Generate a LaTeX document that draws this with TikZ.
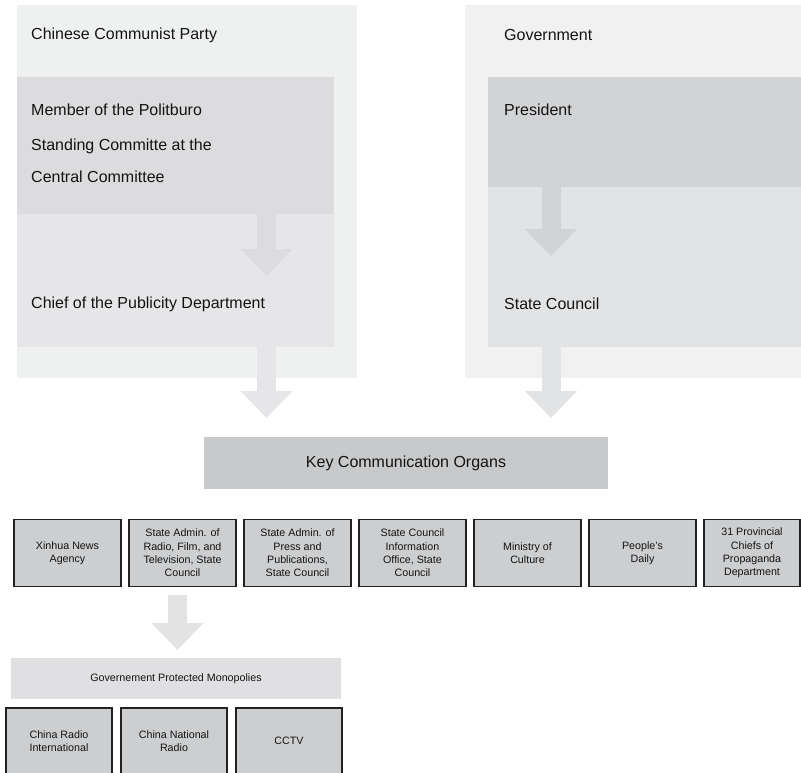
\documentclass[tikz,border=0pt]{standalone}
\usepackage{fontspec}
\setmainfont{Liberation Sans}
\usetikzlibrary{arrows.meta}
\definecolor{outerL}{RGB}{239,240,240}
\definecolor{outerR}{RGB}{241,241,241}
\definecolor{memberc}{RGB}{220,220,222}
\definecolor{chiefc}{RGB}{230,230,232}
\definecolor{presc}{RGB}{210,211,213}
\definecolor{statec}{RGB}{226,227,229}
\definecolor{keyc}{RGB}{200,201,203}
\definecolor{smallc}{RGB}{205,206,208}
\definecolor{monoc}{RGB}{224,224,226}
\definecolor{botarrow}{RGB}{227,227,228}
\definecolor{bordc}{RGB}{34,34,34}
\definecolor{txtc}{RGB}{20,20,20}
\begin{document}
\begin{tikzpicture}[x=1pt,y=-1pt,
  area/.style={inner sep=0pt,outer sep=0pt,anchor=north west},
  bigtext/.style={inner sep=0pt,anchor=west,text=txtc,font=\fontsize{16}{19}\selectfont},
  smalltext/.style={inner sep=0pt,align=center,text=txtc,font=\fontsize{10.7}{13.4}\selectfont},
  smallbox/.style={draw=bordc,line width=1.2pt,fill=smallc,inner sep=0pt,outer sep=0pt,
     minimum width=107pt,minimum height=67pt,align=center,text=txtc,
     font=\fontsize{10.7}{13.4}\selectfont},
  blockarrow/.style={line width=19pt,-{Triangle[width=52pt,length=27pt,line width=0pt]}}
]
\useasboundingbox (0,0) rectangle (801,772);
\clip (0,0) rectangle (801,772);
% party column
\node[area,fill=outerL,minimum width=340pt,minimum height=373pt] (party) at (17,5) {};
\node[area,fill=memberc,minimum width=317pt,minimum height=137pt] (member) at (17,77) {};
\node[area,fill=chiefc,minimum width=317pt,minimum height=133pt] (chief) at (17,214) {};
% government column
\node[area,fill=outerR,minimum width=340pt,minimum height=373pt] (gov) at (465,5) {};
\node[area,fill=presc,minimum width=320pt,minimum height=110pt] (pres) at (488,77) {};
\node[area,fill=statec,minimum width=320pt,minimum height=160pt] (state) at (488,187) {};
% texts
\node[bigtext] (tparty) at (31,35) {Chinese Communist Party};
\node[bigtext] (tm1) at (31,110) {Member of the Politburo};
\node[bigtext] (tm2) at (31,146) {Standing Committe at the};
\node[bigtext] (tm3) at (31,177) {Central Committee};
\node[bigtext] (tchief) at (31,304) {Chief of the Publicity Department};
\node[bigtext] (tgov) at (504,35) {Government};
\node[bigtext] (tpres) at (504,110) {President};
\node[bigtext] (tstate) at (504,304) {State Council};
% key organs
\node[area,fill=keyc,minimum width=404pt,minimum height=52pt] (key) at (204,437) {};
\node[inner sep=0pt,text=txtc,font=\fontsize{16}{19}\selectfont] (tkey) at (key.center) {Key Communication Organs};
% arrows
\coordinate (la1) at (266.5,276);
\coordinate (la2) at (266.5,418);
\coordinate (ra1) at (551,256);
\coordinate (ra2) at (551,418);
\draw[blockarrow,draw=memberc] (member.south -| la1) -- (la1);
\draw[blockarrow,draw=chiefc] (chief.south -| la2) -- (la2);
\draw[blockarrow,draw=presc] (pres.south -| ra1) -- (ra1);
\draw[blockarrow,draw=statec] (state.south -| ra2) -- (ra2);
% organ row
\node[smallbox] (b1) at (67.5,553) {Xinhua News\\Agency};
\node[smallbox] (b2) at (182.5,553) {State Admin. of\\Radio, Film, and\\Television, State\\Council};
\node[smallbox] (b3) at (297.5,553) {State Admin. of\\Press and\\Publications,\\State Council};
\node[smallbox] (b4) at (412.5,553) {State Council\\Information\\Office, State\\Council};
\node[smallbox] (b5) at (527.5,553) {Ministry of\\Culture};
\node[smallbox] (b6) at (642.5,553) {People's\\Daily};
\node[smallbox,minimum width=96pt] (b7) at (752,553) {31 Provincial\\Chiefs of\\Propaganda\\Department};
% monopolies
\coordinate (ba0) at (177.5,595);
\coordinate (ba1) at (177.5,650);
\draw[blockarrow,draw=botarrow] (ba0) -- (ba1);
\node[area,fill=monoc,minimum width=330pt,minimum height=41pt] (mono) at (11,658) {};
\node[smalltext] (tmono) at (mono.center) {Governement Protected Monopolies};
\node[smallbox,anchor=north west,minimum width=106pt,minimum height=84pt] (c1) at (6,708) {};
\node[smallbox,anchor=north west,minimum width=106pt,minimum height=84pt] (c2) at (121,708) {};
\node[smallbox,anchor=north west,minimum width=106pt,minimum height=84pt] (c3) at (236,708) {};
\node[smalltext] (tc1) at (59,741) {China Radio\\International};
\node[smalltext] (tc2) at (174,741) {China National\\Radio};
\node[smalltext] (tc3) at (289,741) {CCTV};
\end{tikzpicture}
\end{document}
